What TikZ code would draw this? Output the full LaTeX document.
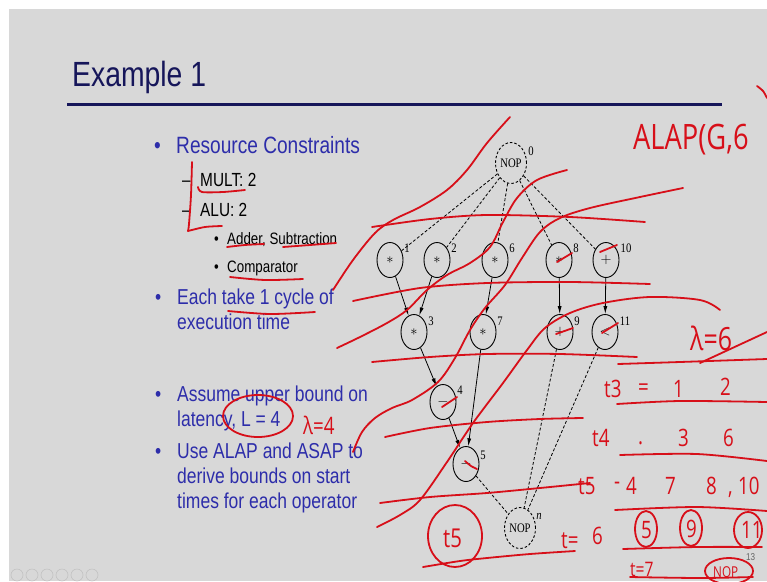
\documentclass[tikz,border=0pt]{standalone}
\usepackage{fontspec}
\setmainfont{Liberation Sans}[FakeStretch=0.81]
\newfontfamily\graphfont{Liberation Serif}[FakeStretch=0.82]
\newfontfamily\handfont{Open Sans}[FakeStretch=0.78]
\usetikzlibrary{shapes.geometric,arrows.meta,calc}

\definecolor{slidebg}{RGB}{216,216,216}
\definecolor{titlenavy}{RGB}{22,22,90}
\definecolor{bulletblue}{RGB}{45,45,170}
\definecolor{pencol}{RGB}{215,15,25}
\definecolor{navgray}{RGB}{194,194,194}

\newcommand{\txtsize}[1]{\fontsize{#1}{#1}\selectfont}
\newcommand{\handsize}[1]{\handfont\fontsize{#1}{#1}\selectfont}

\tikzset{
  txt/.style={anchor=base west, inner sep=0pt},
  opnode/.style={ellipse, draw, line width=0.9pt, minimum width=26pt,
    minimum height=35pt, inner sep=0pt, font=\graphfont\txtsize{15}},
  nopnode/.style={opnode, dash pattern=on 2.5pt off 2pt, minimum width=31pt,
    minimum height=41pt, font=\graphfont\txtsize{13}},
  numlbl/.style={inner sep=0pt, font=\graphfont\txtsize{13}},
  flowarrow/.style={line width=0.8pt, -{Latex[length=8pt,width=4pt]}},
  depline/.style={line width=0.8pt, dash pattern=on 3pt off 2pt},
  redink/.style={draw=pencol, line width=1.8pt, line cap=round, line join=round},
  inktext/.style={anchor=base west, inner sep=0pt, text=pencol},
}

\begin{document}
\begin{tikzpicture}[x=1pt, y=-1pt]
% slide area
\fill[white] (0,0) rectangle (767,581);
\fill[slidebg] (9,9) rectangle (767,581);
\useasboundingbox (0,0) rectangle (767,581);

% title and rule
\node[txt, text=titlenavy, font=\txtsize{35}] (title) at (72,86) {Example 1};
\draw[titlenavy, line width=3pt] (67,104) -- (722,104);

% bullet list
\begin{scope}[every node/.style={txt}]
\node[text=bulletblue, font=\txtsize{23.6}] (b1) at (154,153) {•};
\node[text=bulletblue, font=\txtsize{23.6}] (t1) at (176,153) {Resource Constraints};
\node[font=\txtsize{19}] (d1) at (182,186) {–};
\node[font=\txtsize{19}] (t2) at (200,186) {MULT: 2};
\node[font=\txtsize{19}] (d2) at (182,216) {–};
\node[font=\txtsize{19}] (t3) at (200,216) {ALU: 2};
\node[font=\txtsize{16.5}] (s1) at (214,244) {•};
\node[font=\txtsize{16.5}] (t4) at (227,244) {Adder, Subtraction};
\node[font=\txtsize{16.5}] (s2) at (214,272) {•};
\node[font=\txtsize{16.5}] (t5) at (227,272) {Comparator};
\node[text=bulletblue, font=\txtsize{21.6}] (b2) at (155,304) {•};
\node[text=bulletblue, font=\txtsize{21.6}] (t6) at (177,304) {Each take 1 cycle of};
\node[text=bulletblue, font=\txtsize{21.6}] (t7) at (177,329) {execution time};
\node[text=bulletblue, font=\txtsize{21.6}] (b3) at (155,401) {•};
\node[text=bulletblue, font=\txtsize{21.6}] (t8) at (177,401) {Assume upper bound on};
\node[text=bulletblue, font=\txtsize{21.6}] (t9) at (177,426) {latency, L = 4};
\node[text=bulletblue, font=\txtsize{21.6}] (b4) at (155,458) {•};
\node[text=bulletblue, font=\txtsize{21.6}] (t10) at (177,458) {Use ALAP and ASAP to};
\node[text=bulletblue, font=\txtsize{21.6}] (t11) at (177,483) {derive bounds on start};
\node[text=bulletblue, font=\txtsize{21.6}] (t12) at (177,508) {times for each operator};
\end{scope}

% sequencing graph
\node[nopnode] (n0) at (511,163) {NOP};
\node[opnode] (n1) at (390,260) {$\ast$};
\node[opnode] (n2) at (437,260) {$\ast$};
\node[opnode] (n6) at (495,260) {$\ast$};
\node[opnode] (n8) at (559,260) {$\ast$};
\node[opnode] (n10) at (606,260) {$+$};
\node[opnode] (n3) at (414,332) {$\ast$};
\node[opnode] (n7) at (483,332) {$\ast$};
\node[opnode] (n9) at (560,332) {$+$};
\node[opnode] (n11) at (605,332) {$<$};
\node[opnode] (n4) at (443,402) {$-$};
\node[opnode] (n5) at (466,464) {$-$};
\node[nopnode] (nn) at (520,528) {NOP};

\node[numlbl] (l0) at ($(n0)+(20,-12)$) {0};
\node[numlbl] (l1) at ($(n1)+(17,-12)$) {1};
\node[numlbl] (l2) at ($(n2)+(17,-12)$) {2};
\node[numlbl] (l6) at ($(n6)+(17,-12)$) {6};
\node[numlbl] (l8) at ($(n8)+(17,-12)$) {8};
\node[numlbl] (l10) at ($(n10)+(20,-12)$) {10};
\node[numlbl] (l3) at ($(n3)+(17,-11)$) {3};
\node[numlbl] (l7) at ($(n7)+(17,-11)$) {7};
\node[numlbl] (l9) at ($(n9)+(17,-11)$) {9};
\node[numlbl] (l11) at ($(n11)+(20,-11)$) {11};
\node[numlbl] (l4) at ($(n4)+(17,-12)$) {4};
\node[numlbl] (l5) at ($(n5)+(17,-9)$) {5};
\node[numlbl] (ln) at ($(nn)+(19,-12)$) {\itshape n};

\foreach \c in {n1,n2,n6,n8,n10} \draw[depline] (n0) -- (\c);
\draw[flowarrow] (n1) -- (n3);
\draw[flowarrow] (n2) -- (n3);
\draw[flowarrow] (n6) -- (n7);
\draw[flowarrow] (n8) -- (n9);
\draw[flowarrow] (n10) -- (n11);
\draw[flowarrow] (n3) -- (n4);
\draw[flowarrow] (n4) -- (n5);
\draw[flowarrow] (n7) -- (n5);
\foreach \c in {n5,n9,n11} \draw[depline] (\c) -- (nn);

% footer
\foreach \i in {0,...,5} \draw[navgray, line width=0.6pt] (17+15*\i,575) circle [radius=6pt];
\node[txt, text=black!60, font=\txtsize{10}] (pageno) at (746,560) {13};

% ---- pen annotations ----
% marks on the list
\draw[redink] plot[smooth, tension=0.5] coordinates {(192,162) (191,195) (189,224) (188,231)};
\draw[redink] plot[smooth, tension=0.5] coordinates {(188,231) (205,227) (222,226)};
\draw[redink] plot[smooth, tension=0.5] coordinates {(198,187) (202,192) (223,192) (245,190)};
\draw[redink] plot[smooth, tension=0.5] coordinates {(227,247) (245,245) (264,244)};
\draw[redink] plot[smooth, tension=0.5] coordinates {(283,247) (310,245) (336,243)};
\draw[redink] plot[smooth, tension=0.5] coordinates {(230,277) (265,280) (303,279)};
\draw[redink] plot[smooth, tension=0.5] coordinates {(228,311) (270,314) (315,312)};
\draw[redink] (258,416) ellipse [x radius=35pt, y radius=21pt];
\node[inktext, font=\handsize{24}] (lam4) at (303,434) {λ=4};

% level sweeps
\draw[redink] plot[smooth, tension=0.55] coordinates {(333,290) (353,260) (375,233) (393,220) (420,207) (447,190) (467,170) (487,143) (510,117)};
\draw[redink] plot[smooth, tension=0.55] coordinates {(337,348) (360,337) (387,323) (407,310) (427,290) (447,275) (470,263) (490,247) (503,222) (517,198) (537,180) (567,170)};
\draw[redink] plot[smooth, tension=0.55] coordinates {(353,452) (362,432) (375,418) (392,408) (412,400) (438,382) (455,358) (470,330) (485,308) (505,285) (522,258) (540,232) (560,218) (590,208) (640,197) (683,188)};
\draw[redink] plot[smooth, tension=0.55] coordinates {(377,527) (400,515) (420,500) (447,462) (473,423) (503,383) (527,350) (545,328) (570,313) (603,303) (650,297) (700,300) (720,310)};

\draw[redink] plot[smooth] coordinates {(372,227) (430,219) (487,215) (570,217) (645,222)};
\draw[redink] plot[smooth] coordinates {(353,301) (420,288) (487,283) (570,282) (650,284)};
\draw[redink] plot[smooth] coordinates {(372,362) (430,357) (487,354) (560,354) (637,357)};
\draw[redink] plot[smooth] coordinates {(385,437) (430,428) (487,422) (540,419) (583,418)};
\draw[redink] plot[smooth] coordinates {(380,503) (430,497) (487,493) (540,488) (590,483)};
\draw[redink] plot[smooth] coordinates {(423,567) (460,561) (487,558) (530,554) (575,551)};

% strokes over nodes
\draw[redink] (557,262) -- (572,253);
\draw[redink] (600,252) -- (617,245);
\draw[redink] (556,334) -- (573,328);
\draw[redink] (602,333) -- (618,323);
\draw[redink] (442,407) -- (457,397);
\draw[redink] plot[smooth] coordinates {(465,461) (471,466) (477,469)};

% circled t5
\draw[redink] (455,536) ellipse [x radius=27pt, y radius=31pt];
\node[inktext, font=\handsize{26}] (t5c) at (443,547) {t5};

% schedule table on the right
\node[inktext, font=\handsize{35}] (alap) at (633,149) {ALAP(G,6};
\draw[redink] plot[smooth] coordinates {(757,86) (763,91) (767,98)};
\node[inktext, font=\handsize{32}] (lam6) at (690,350) {λ=6};
\draw[redink] (700,363) -- (767,332);
\draw[redink] plot[smooth] coordinates {(618,364) (680,362) (767,359)};
\draw[redink] plot[smooth] coordinates {(617,404) (680,401) (767,402)};
\draw[redink] plot[smooth] coordinates {(620,455) (697,454) (767,461)};
\draw[redink] plot[smooth] coordinates {(615,510) (697,507) (767,511)};
\draw[redink] plot[smooth] coordinates {(623,549) (697,547) (762,547)};
\draw[redink] plot[smooth] coordinates {(630,577) (700,578) (753,577)};

\begin{scope}[every node/.style={inktext, font=\handsize{24}}]
\node (r1a) at (604,397) {t3};
\node (r1b) at (638,395) {=};
\node (r1c) at (673,397) {1};
\node (r1d) at (720,395) {2};
\node (r2a) at (592,446) {t4};
\node (r2b) at (638,444) {.};
\node (r2c) at (678,446) {3};
\node (r2d) at (723,446) {6};
\node (r3a) at (578,494) {t5};
\node (r3b) at (614,489) {-};
\node (r3c) at (626,494) {4};
\node (r3d) at (665,494) {7};
\node (r3e) at (706,494) {8};
\node (r3f) at (728,494) {,};
\node (r3g) at (738,494) {10};
\node (r4a) at (561,548) {t=};
\node (r4b) at (592,544) {6};
\node (r4c) at (641,538) {5};
\node (r4d) at (686,537) {9};
\node (r4e) at (741,538) {11};
\node[font=\handsize{20}] (r5a) at (630,576) {t=7};
\node[font=\handsize{15}] (r5b) at (713,577) {NOP};
\end{scope}
\draw[redink] (646,529) ellipse [x radius=11pt, y radius=18pt];
\draw[redink] (691,528) ellipse [x radius=11pt, y radius=18pt];
\draw[redink] (748,530) ellipse [x radius=14pt, y radius=18pt];
\draw[redink] (729,571) ellipse [x radius=24pt, y radius=13pt];
\end{tikzpicture}
\end{document}
